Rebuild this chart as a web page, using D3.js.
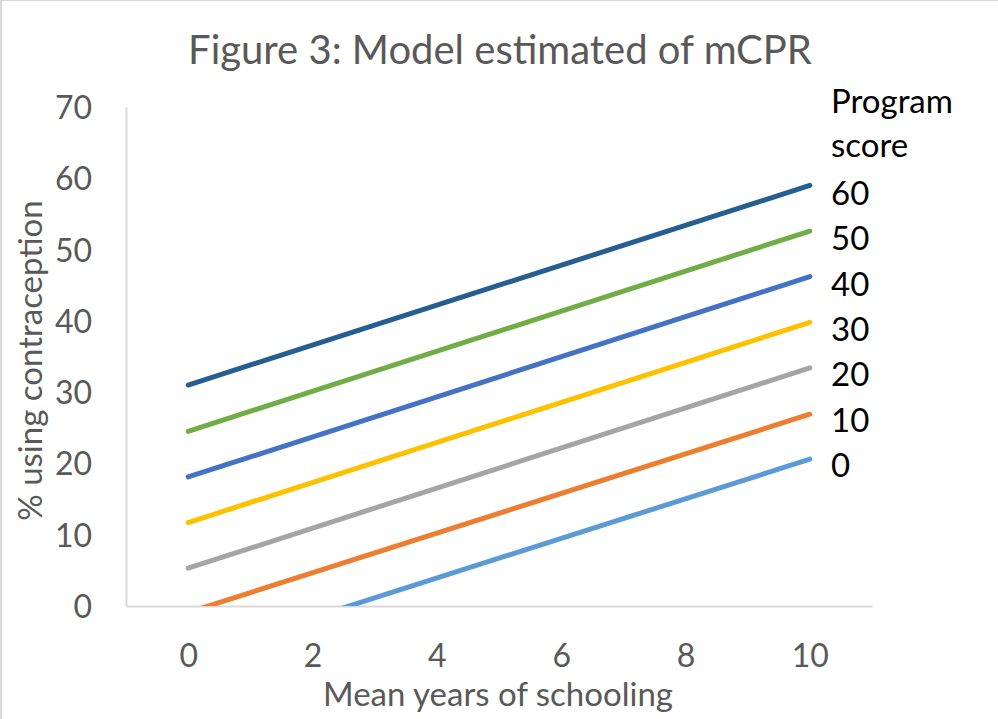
<!DOCTYPE html>
<html>
<head>
<meta charset="utf-8">
<script src="https://cdn.jsdelivr.net/npm/d3@7/dist/d3.min.js"></script>
<style>
  html, body { margin: 0; padding: 0; background: #fff; }
  svg { display: block; font-family: Lato, "Open Sans", sans-serif; }
</style>
</head>
<body>
<svg id="chart" width="998" height="719"></svg>
<script>
// Mean years of schooling at each end of the fitted lines
const schooling = [0, 10];
// Program score of each series (drawn bottom to top)
const programScores = ["0", "10", "20", "30", "40", "50", "60"];
// Estimated mCPR (%) at 0 and 10 years of schooling
const mcpr0  = [-7.2, 20.6];
const mcpr10 = [-0.9, 26.9];
const mcpr20 = [5.3, 33.4];
const mcpr30 = [11.7, 39.8];
const mcpr40 = [18.1, 46.2];
const mcpr50 = [24.5, 52.6];
const mcpr60 = [31.0, 59.0];
const seriesValues = [mcpr0, mcpr10, mcpr20, mcpr30, mcpr40, mcpr50, mcpr60];
const seriesColors = ["#5b9bd5", "#ed7d31", "#a5a5a5", "#ffc000", "#4472c4", "#70ad47", "#255e91"];
const xTicks = [0, 2, 4, 6, 8, 10];
const yTicks = [0, 10, 20, 30, 40, 50, 60, 70];

const svg = d3.select("#chart");
const W = 998, H = 719;
const plot = { left: 126, right: 872, top: 107, bottom: 606 };

// chart frame (top and left edges visible)
svg.append("line").attr("x1", 1).attr("y1", 0).attr("x2", 1).attr("y2", H)
  .attr("stroke", "#d9d9d9").attr("stroke-width", 2);
svg.append("line").attr("x1", 0).attr("y1", 0.5).attr("x2", W).attr("y2", 0.5)
  .attr("stroke", "#d9d9d9").attr("stroke-width", 1);

const x = d3.scaleLinear().domain([-1, 11]).range([plot.left, plot.right]);
const y = d3.scaleLinear().domain([0, 70]).range([plot.bottom, plot.top]);

// title
svg.append("text")
  .attr("x", 500).attr("y", 64)
  .attr("text-anchor", "middle")
  .attr("fill", "#595959")
  .attr("font-size", 40)
  .text("Figure 3: Model estimated of mCPR");

// axes
const yAxis = d3.axisLeft(y).tickValues(yTicks).tickSize(0).tickPadding(34);
const gy = svg.append("g").attr("transform", `translate(${plot.left},0)`).call(yAxis);
const xAxis = d3.axisBottom(x).tickValues(xTicks).tickSize(0).tickPadding(38);
const gx = svg.append("g").attr("transform", `translate(0,${plot.bottom})`).call(xAxis);
[gx, gy].forEach(g => {
  g.select(".domain").attr("stroke", "#d9d9d9").attr("stroke-width", 2);
  g.selectAll("text").attr("fill", "#595959").attr("font-size", 32)
    .attr("font-family", "Lato, 'Open Sans', sans-serif");
});
gy.selectAll("text").attr("dy", "0.36em");

// axis titles
svg.append("text")
  .attr("transform", `translate(42,${(plot.top + plot.bottom) / 2 + 4}) rotate(-90)`)
  .attr("text-anchor", "middle")
  .attr("fill", "#595959")
  .attr("font-size", 33)
  .text("% using contraception");
svg.append("text")
  .attr("x", 498).attr("y", 706)
  .attr("text-anchor", "middle")
  .attr("fill", "#595959")
  .attr("font-size", 33)
  .text("Mean years of schooling");

// series lines, clipped to plot area
svg.append("clipPath").attr("id", "plot-clip")
  .append("rect")
  .attr("x", plot.left).attr("y", plot.top)
  .attr("width", plot.right - plot.left).attr("height", plot.bottom - plot.top);

const line = d3.line().x((d, i) => x(schooling[i])).y(d => y(d));
svg.append("g").attr("clip-path", "url(#plot-clip)")
  .selectAll("path")
  .data(seriesValues)
  .join("path")
  .attr("d", d => line(d))
  .attr("fill", "none")
  .attr("stroke", (d, i) => seriesColors[i])
  .attr("stroke-width", 5)
  .attr("stroke-linecap", "round");

// legend: title and series names beside line ends
const legendX = 831;
svg.append("text").attr("x", legendX).attr("y", 113)
  .attr("fill", "#000").attr("font-size", 33).text("Program");
svg.append("text").attr("x", legendX).attr("y", 157)
  .attr("fill", "#000").attr("font-size", 33).text("score");
const legendY = d3.scalePoint().domain(programScores.slice().reverse()).range([193, 465]);
svg.append("g").selectAll("text")
  .data(programScores)
  .join("text")
  .attr("x", legendX)
  .attr("y", d => legendY(d))
  .attr("dy", "0.36em")
  .attr("fill", "#000")
  .attr("font-size", 33)
  .text(d => d);
</script>
</body>
</html>
